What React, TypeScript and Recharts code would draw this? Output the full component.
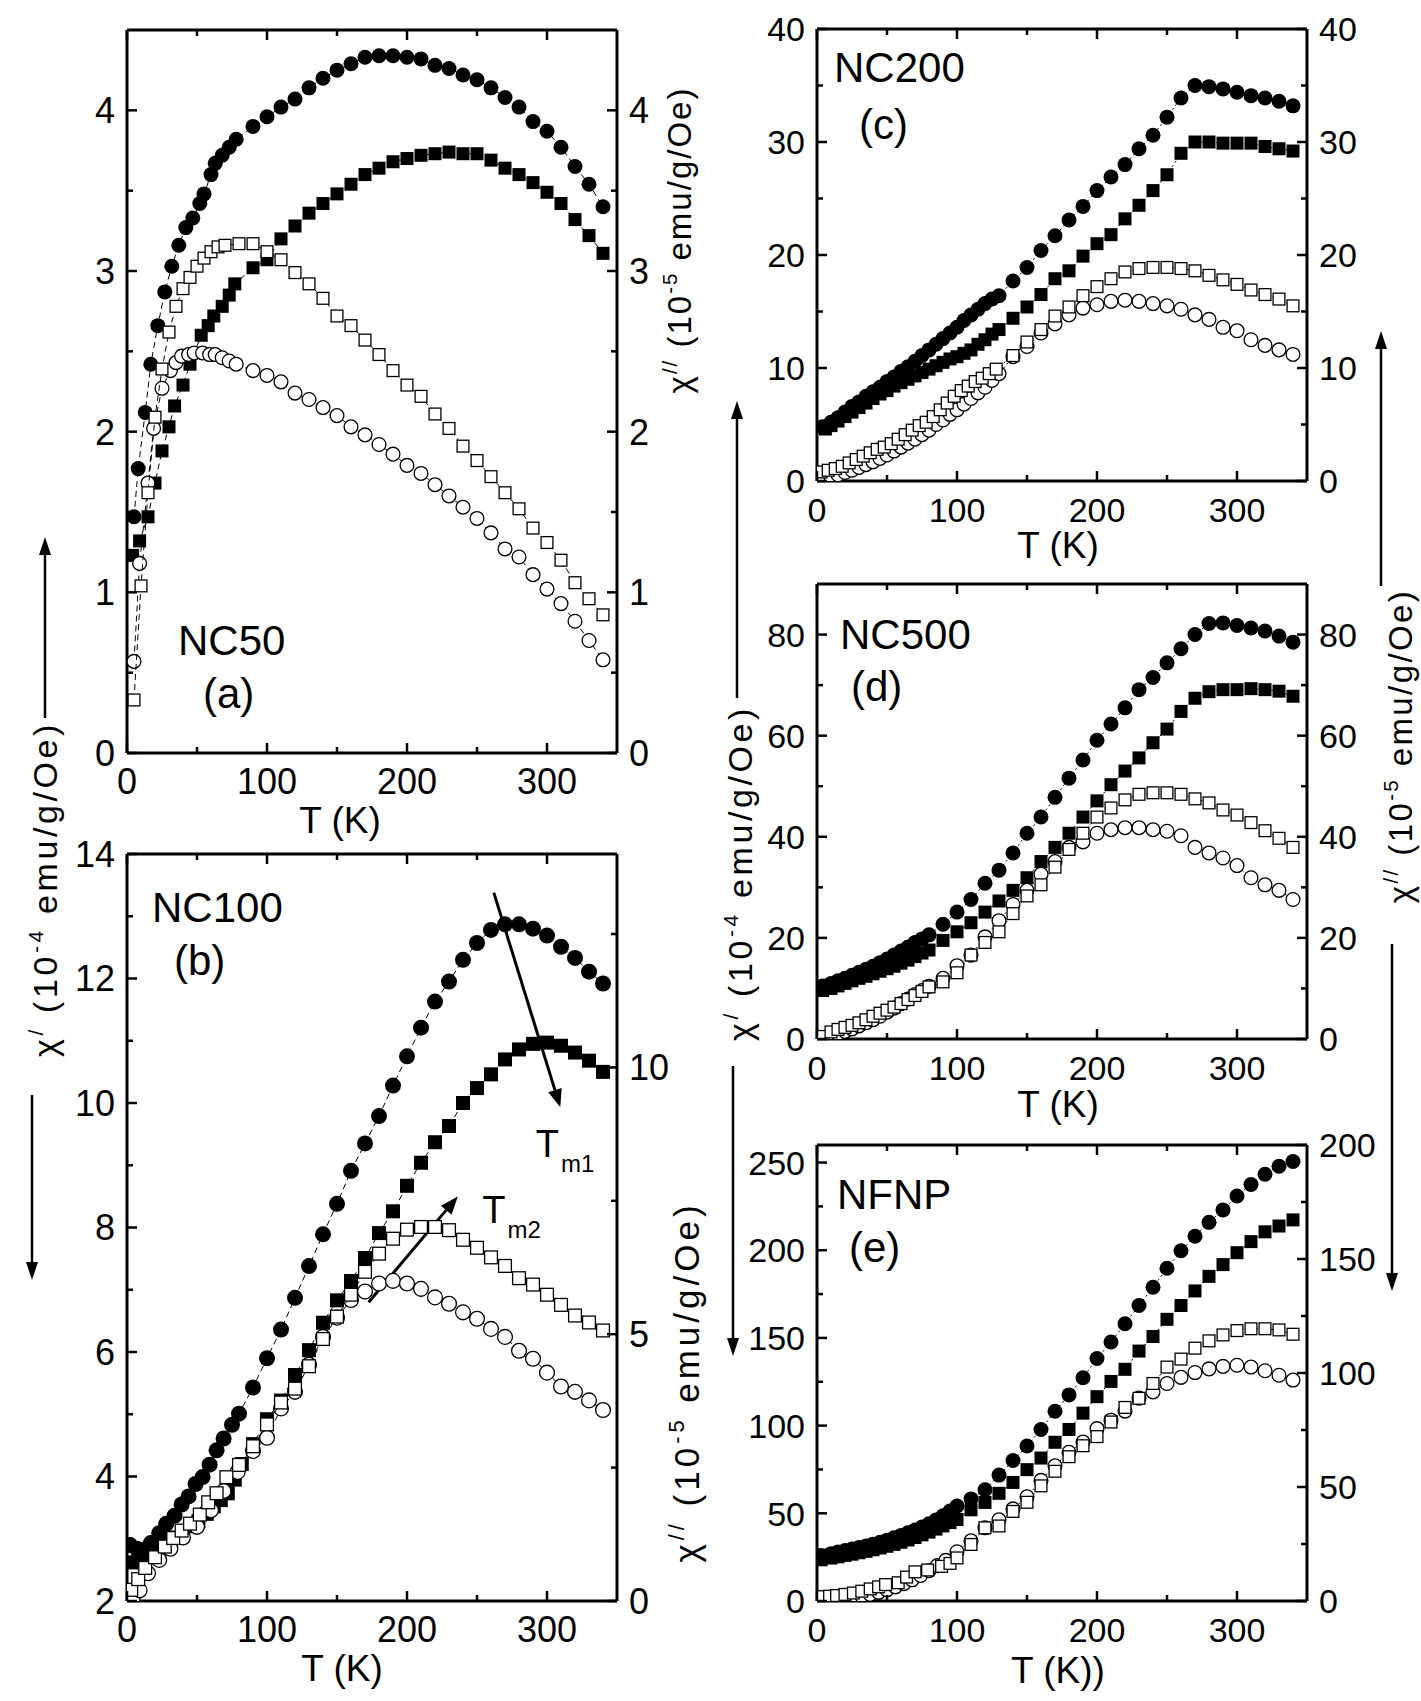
import React from 'react';
import { ScatterChart, Scatter, XAxis, YAxis, ReferenceLine, ReferenceDot } from 'recharts';

const FONT = "'Liberation Sans', Arial, Helvetica, sans-serif";

// ---------------- shared x axis ----------------
const X_DOMAIN = [0, 350];
const X_TICKS = [0, 50, 100, 150, 200, 250, 300];
const X_MAJOR = [0, 100, 200, 300];

const T90 = [90, 100, 110, 120, 130, 140, 150, 160, 170, 180, 190, 200, 210, 220, 230, 240, 250, 260, 270, 280, 290, 300, 310, 320, 330, 340];
const T100 = [100, 110, 120, 130, 140, 150, 160, 170, 180, 190, 200, 210, 220, 230, 240, 250, 260, 270, 280, 290, 300, 310, 320, 330, 340];
const T110 = [110, 120, 130, 140, 150, 160, 170, 180, 190, 200, 210, 220, 230, 240, 250, 260, 270, 280, 290, 300, 310, 320, 330, 340];
const T140 = [140, 150, 160, 170, 180, 190, 200, 210, 220, 230, 240, 250, 260, 270, 280, 290, 300, 310, 320, 330, 340];

// ---------------- panel (a) NC50 ----------------
const A_FC_T = [5, 8, 13, 17, 22, 27, 32, 37, 42, 47, 52, 55, 60, 63, 68, 73, 78, ...T90];
const A_FC = [1.47, 1.77, 2.12, 2.42, 2.66, 2.87, 3.03, 3.16, 3.27, 3.33, 3.42, 3.48, 3.6, 3.67, 3.72, 3.77, 3.82,
  3.9, 3.96, 4.02, 4.07, 4.14, 4.2, 4.25, 4.29, 4.33, 4.34, 4.34, 4.33, 4.32, 4.28, 4.26, 4.22, 4.19, 4.14, 4.08, 4.02, 3.93, 3.87, 3.77, 3.65, 3.54, 3.4];
const A_FS_T = [4, 9, 15, 20, 25, 30, 34, 40, 45, 53, 58, 62, 68, 73, 77, ...T90];
const A_FS = [1.23, 1.32, 1.47, 1.68, 1.88, 2.03, 2.16, 2.29, 2.42, 2.6, 2.66, 2.72, 2.78, 2.85, 2.92,
  3.02, 3.07, 3.2, 3.28, 3.36, 3.42, 3.48, 3.54, 3.6, 3.64, 3.68, 3.7, 3.72, 3.73, 3.74, 3.73, 3.73, 3.69, 3.64, 3.6, 3.55, 3.49, 3.42, 3.32, 3.22, 3.11];
const A_OS_T = [5, 10, 15, 20, 25, 30, 35, 40, 45, 50, 55, 60, 65, 70, 80, 90, ...T100];
const A_OS = [0.33, 1.04, 1.62, 2.09, 2.39, 2.62, 2.78, 2.89, 2.96, 3.03, 3.08, 3.12, 3.15, 3.16, 3.17, 3.17,
  3.12, 3.07, 2.99, 2.92, 2.83, 2.72, 2.66, 2.57, 2.48, 2.38, 2.29, 2.22, 2.11, 2.02, 1.91, 1.82, 1.72, 1.62, 1.52, 1.4, 1.31, 1.2, 1.06, 0.96, 0.86];
const A_OC_T = [5, 9, 15, 19, 25, 31, 35, 39, 44, 48, 54, 59, 63, 68, 73, 78, ...T90];
const A_OC = [0.57, 1.18, 1.68, 2.02, 2.27, 2.38, 2.43, 2.47, 2.48, 2.49, 2.49, 2.48, 2.48, 2.46, 2.44, 2.42,
  2.38, 2.35, 2.31, 2.24, 2.2, 2.15, 2.1, 2.03, 1.98, 1.92, 1.86, 1.79, 1.74, 1.67, 1.6, 1.53, 1.46, 1.37, 1.27, 1.22, 1.11, 1.02, 0.93, 0.82, 0.7, 0.58];
const A_YL = { domain: [0, 4.5], ticks: [0, 0.5, 1, 1.5, 2, 2.5, 3, 3.5, 4], majors: [0, 1, 2, 3, 4] };
const A_YR = { domain: [0, 4.5], ticks: [0, 0.5, 1, 1.5, 2, 2.5, 3, 3.5, 4], majors: [0, 1, 2, 3, 4] };

// ---------------- panel (b) NC100 ----------------
const B_FC_T = [2, 7, 12, 17, 23, 28, 34, 39, 44, 49, 54, 59, 64, 69, 75, 80, ...T90];
const B_FC = [2.9, 2.84, 2.82, 2.93, 3.09, 3.24, 3.37, 3.55, 3.68, 3.88, 3.99, 4.19, 4.42, 4.61, 4.83, 5.01,
  5.43, 5.9, 6.36, 6.87, 7.38, 7.89, 8.38, 8.91, 9.35, 9.79, 10.28, 10.75, 11.21, 11.63, 11.95, 12.3, 12.57, 12.78, 12.87, 12.87, 12.8, 12.69, 12.51, 12.33, 12.11, 11.92];
const B_FS_T = [3, 8, 13, 20, 27, 33, 40, 46, 51, 57, 62, 67, 72, 77, 82, ...T90];
const B_FS = [2.62, 2.65, 2.7, 2.8, 2.92, 3.02, 3.12, 3.2, 3.28, 3.4, 3.52, 3.62, 3.73, 3.95, 4.2,
  4.52, 4.92, 5.22, 5.63, 6.03, 6.47, 6.83, 7.14, 7.51, 7.91, 8.26, 8.67, 9.04, 9.37, 9.63, 10.0, 10.24, 10.46, 10.7, 10.86, 10.95, 10.97, 10.92, 10.81, 10.68, 10.5];
const B_OS_T = [3, 8, 13, 20, 27, 33, 39, 45, 52, 58, 64, 71, 80, ...T90];
const B_OS = [0.21, 0.41, 0.62, 0.82, 1.02, 1.18, 1.32, 1.45, 1.62, 1.85, 2.02, 2.32, 2.55,
  2.9, 3.31, 3.72, 3.98, 4.4, 4.91, 5.33, 5.74, 6.17, 6.51, 6.79, 6.96, 7.01, 7.01, 6.95, 6.77, 6.62, 6.44, 6.28, 6.05, 5.93, 5.74, 5.55, 5.35, 5.22, 5.07];
const B_OC_T = [4, 9, 15, 23, 31, 40, 50, 60, 69, 79, ...T90];
const B_OC = [0.05, 0.2, 0.52, 0.77, 0.98, 1.19, 1.39, 1.7, 2.06, 2.42,
  2.81, 3.06, 3.61, 3.92, 4.43, 4.95, 5.31, 5.64, 5.8, 5.95, 6.0, 5.95, 5.85, 5.69, 5.57, 5.41, 5.29, 5.1, 4.95, 4.69, 4.54, 4.28, 4.02, 3.92, 3.76, 3.58];
const B_YL = { domain: [2, 14], ticks: [2, 3, 4, 5, 6, 7, 8, 9, 10, 11, 12, 13, 14], majors: [2, 4, 6, 8, 10, 12, 14] };
const B_YR = { domain: [0, 14], ticks: [0, 2.5, 5, 7.5, 10, 12.5], majors: [0, 5, 10] };

// ---------------- panel (c) NC200 ----------------
const C_FC_T = [4, 10, 15, 20, 25, 30, 35, 40, 45, 50, 55, 60, 65, 70, 75, 80, 85, 90, 95, 100, 105, 110, 115, 120, 125, 130, ...T140];
const C_FC = [4.8, 5.2, 5.6, 6.1, 6.6, 7.0, 7.5, 7.9, 8.3, 8.8, 9.2, 9.7, 10.1, 10.6, 11.1, 11.6, 12.1, 12.6, 13.1, 13.6, 14.2, 14.7, 15.2, 15.7, 16.1, 16.4,
  17.7, 18.9, 20.4, 21.7, 23.1, 24.3, 25.7, 26.9, 28.0, 29.4, 30.6, 32.2, 33.9, 35.0, 34.9, 34.7, 34.4, 34.1, 33.9, 33.6, 33.2];
const C_FS_T = [6, 10, 15, 20, 25, 30, 35, 40, 45, 50, 55, 60, 65, 70, 75, 80, 85, 90, 95, 100, 105, 110, 115, 120, 125, 130, ...T140];
const C_FS = [4.6, 4.9, 5.3, 5.7, 6.1, 6.5, 6.9, 7.3, 7.7, 8.0, 8.4, 8.7, 9.0, 9.3, 9.6, 9.9, 10.2, 10.5, 10.8, 11.0, 11.3, 11.6, 12.1, 12.5, 13.0, 13.4,
  14.4, 15.4, 16.5, 17.9, 18.6, 19.9, 21.0, 21.8, 23.2, 24.4, 25.7, 27.1, 29.0, 30.0, 30.0, 29.9, 29.9, 29.9, 29.6, 29.4, 29.2];
const C_OS_T = [3, 8, 13, 18, 23, 28, 33, 38, 43, 48, 53, 58, 63, 68, 73, 78, 83, 88, 93, 98, 103, 108, 113, 118, 123, 128, ...T140];
const C_OS = [0.8, 0.95, 1.1, 1.3, 1.6, 1.9, 2.2, 2.5, 2.8, 3.0, 3.3, 3.7, 4.1, 4.5, 4.9, 5.2, 5.7, 6.3, 6.9, 7.5, 8.0, 8.4, 8.8, 9.1, 9.5, 9.9,
  11.1, 12.3, 13.4, 14.6, 15.4, 16.4, 17.2, 17.9, 18.5, 18.8, 18.9, 18.9, 18.8, 18.6, 18.2, 17.8, 17.4, 16.9, 16.5, 16.1, 15.5];
const C_OC_T = [4, 10, 15, 20, 25, 30, 35, 40, 45, 50, 55, 60, 65, 70, 75, 80, 85, 90, 95, 100, 105, 110, 115, 120, 125, 130, ...T140];
const C_OC = [0.15, 0.35, 0.55, 0.75, 0.95, 1.2, 1.45, 1.7, 2.0, 2.3, 2.65, 3.0, 3.35, 3.7, 4.1, 4.5, 5.0, 5.4, 5.9, 6.3, 6.8, 7.3, 7.8, 8.3, 8.9, 9.5,
  11.0, 11.9, 13.1, 13.9, 14.7, 15.3, 15.6, 15.9, 16.0, 15.9, 15.7, 15.5, 15.2, 14.7, 14.3, 13.6, 13.3, 12.5, 12.0, 11.6, 11.2];
const C_YL = { domain: [0, 40], ticks: [0, 5, 10, 15, 20, 25, 30, 35, 40], majors: [0, 10, 20, 30, 40] };
const C_YR = { domain: [0, 40], ticks: [0, 5, 10, 15, 20, 25, 30, 35, 40], majors: [0, 10, 20, 30, 40] };

// ---------------- panel (d) NC500 ----------------
const D_T = [4, 10, 15, 20, 25, 30, 35, 40, 45, 50, 55, 60, 65, 70, 75, 80, ...T90];
const D_FC = [10.5, 11.0, 11.5, 12.0, 12.6, 13.2, 13.8, 14.4, 15.1, 15.8, 16.6, 17.4, 18.2, 19.1, 19.8, 20.6,
  22.7, 25.1, 27.6, 30.8, 33.4, 36.8, 40.7, 43.9, 47.8, 51.6, 55.2, 59.1, 62.3, 65.5, 69.1, 71.5, 74.4, 77.2, 80.0, 82.2, 82.3, 81.8, 81.3, 80.7, 79.7, 78.5];
const D_FS = [9.6, 10.0, 10.5, 11.0, 11.5, 12.0, 12.4, 12.9, 13.4, 13.9, 14.4, 15.0, 15.6, 16.3, 17.0, 17.6,
  19.5, 21.2, 23.0, 25.1, 27.3, 29.4, 31.9, 35.1, 37.9, 40.7, 43.9, 47.1, 50.3, 53.0, 55.6, 58.6, 61.3, 64.8, 67.4, 68.7, 69.1, 69.1, 69.3, 69.1, 68.8, 67.8];
const D_OS = [0.5, 1.4, 1.9, 2.3, 2.7, 3.2, 3.8, 4.5, 5.1, 5.7, 6.3, 7.0, 7.8, 8.6, 9.4, 10.3,
  11.3, 13.1, 16.6, 19.1, 21.2, 24.8, 28.3, 30.5, 34.0, 37.5, 40.7, 43.9, 45.7, 47.3, 48.4, 48.7, 48.7, 48.4, 47.5, 46.7, 45.3, 44.3, 42.8, 41.2, 39.7, 37.9];
const D_OC = [0.2, 0.6, 1.0, 1.5, 2.0, 2.6, 3.2, 3.8, 4.5, 5.3, 6.1, 7.0, 7.9, 8.8, 9.6, 10.4,
  12.0, 14.5, 16.6, 20.2, 23.4, 26.6, 29.4, 32.6, 35.1, 37.9, 39.0, 40.7, 41.4, 41.8, 41.8, 41.4, 41.1, 40.2, 37.9, 36.8, 35.8, 34.3, 31.9, 30.5, 29.4, 27.6];
const D_YL = { domain: [0, 90], ticks: [0, 10, 20, 30, 40, 50, 60, 70, 80], majors: [0, 20, 40, 60, 80] };
const D_YR = { domain: [0, 90], ticks: [0, 10, 20, 30, 40, 50, 60, 70, 80], majors: [0, 20, 40, 60, 80] };

// ---------------- panel (e) NFNP ----------------
const E_F_T = [3, 10, 15, 20, 25, 30, 35, 40, 45, 50, 55, 60, 65, 70, 75, 80, 85, 90, 95, 100, ...T110];
const E_FC = [26.0, 27.0, 28.0, 28.8, 29.6, 30.5, 31.4, 32.4, 33.5, 34.7, 36.0, 37.4, 38.9, 40.5, 42.2, 44.0, 46.2, 48.6, 51.3, 54.2,
  58.2, 63.4, 71.8, 80.1, 88.4, 97.8, 108.2, 117.5, 127.3, 138.3, 147.7, 158.1, 168.5, 178.9, 189.7, 199.7, 208.0, 215.9, 223.0, 230.9, 237.5, 243.3, 247.9, 250.6];
const E_FS = [23.5, 24.5, 25.2, 26.0, 26.7, 27.5, 28.3, 29.2, 30.2, 31.2, 32.3, 33.5, 34.8, 36.2, 37.7, 39.3, 41.0, 42.8, 44.7, 46.5,
  52.0, 56.2, 61.4, 67.6, 74.9, 81.5, 90.5, 97.8, 107.1, 116.5, 125.2, 132.1, 142.5, 150.8, 160.6, 168.5, 176.8, 185.1, 191.8, 198.6, 204.9, 210.5, 213.8, 217.3];
const E_OS_T = [3, 9, 14, 20, 26, 32, 38, 44, 49, 58, 64, 70, 79, 89, 95, 100, ...T110];
const E_OS = [1.9, 2.1, 2.4, 2.9, 3.5, 4.3, 5.3, 6.2, 7.2, 8.0, 10.5, 12.8, 13.6, 15.2, 16.5, 18.9,
  24.8, 32.1, 32.9, 39.3, 43.3, 50.5, 56.9, 63.3, 68.1, 72.1, 78.5, 84.9, 88.9, 95.4, 102.6, 106.1, 110.9, 114.1, 116.7, 118.6, 119.4, 119.4, 118.9, 117.0];
const E_OC_T = [3, 9, 14, 20, 26, 32, 38, 44, 50, 56, 62, 68, 74, 80, 86, 92, 100, ...T110];
const E_OC = [0.5, 0.7, 0.9, 1.2, 1.6, 2.2, 2.9, 3.8, 4.9, 6.2, 7.6, 9.3, 11.2, 13.3, 15.5, 17.8, 21.6,
  26.4, 32.1, 35.6, 40.4, 45.7, 52.9, 59.3, 65.2, 69.7, 75.6, 79.3, 83.3, 89.0, 91.7, 95.4, 98.1, 100.2, 101.8, 102.9, 103.4, 102.6, 101.0, 99.0, 96.9];
const E_YL = { domain: [0, 260], ticks: [0, 25, 50, 75, 100, 125, 150, 175, 200, 225, 250], majors: [0, 50, 100, 150, 200, 250] };
const E_YR = { domain: [0, 200], ticks: [0, 25, 50, 75, 100, 125, 150, 175, 200], majors: [0, 50, 100, 150, 200] };

// ---------------- annotations in (b) ----------------
const B_ARROW1 = [{ x: 262, y: 13.38 }, { x: 309.5, y: 9.93 }];
const B_ARROW2 = [{ x: 172.6, y: 6.8 }, { x: 236.3, y: 8.5 }];
const B_TM1 = { x: 292, y: 9.13, sub: 'm1' };
const B_TM2 = { x: 253.8, y: 8.07, sub: 'm2' };

// ---------------- layout ----------------
const LW = 90, RW = 90, MT = 30, XB = 60, XT = 1;
const AX = { stroke: '#000', strokeWidth: 3 };

type Box = { left: number; right: number; top: number; bottom: number };
type YSpec = { domain: number[]; ticks: number[]; majors: number[] };
type Kind = 'fc' | 'fs' | 'oc' | 'os';
type Ser = { t: number[]; v: number[]; kind: Kind; axis: 'L' | 'R' };

const zip = (t: number[], v: number[]) => t.map((x, i) => ({ x, y: v[i] }));

function mkTick(orient: string, majors: number[], fs: number, labels: boolean) {
  return (p: any) => {
    const v = Number(p && p.payload ? p.payload.value : NaN);
    const major = majors.some((m) => Math.abs(m - v) < 1e-6);
    const len = major ? 10 : 6;
    const x = Number(p.x), y = Number(p.y);
    let x2 = x, y2 = y;
    if (orient === 'bottom') y2 = y - len;
    else if (orient === 'top') y2 = y + len;
    else if (orient === 'left') x2 = x + len;
    else x2 = x - len;
    let label: any = null;
    if (labels && major) {
      const txt = String(v);
      const common = { fontFamily: FONT, fontSize: fs, fill: '#000' };
      if (orient === 'bottom') label = <text x={x} y={y + 41} textAnchor="middle" {...common}>{txt}</text>;
      else if (orient === 'left') label = <text x={x - 12} y={y + fs * 0.36} textAnchor="end" {...common}>{txt}</text>;
      else if (orient === 'right') label = <text x={x + 12} y={y + fs * 0.36} textAnchor="start" {...common}>{txt}</text>;
    }
    return (
      <g>
        <line x1={x} y1={y} x2={x2} y2={y2} stroke="#000" strokeWidth={2.5} />
        {label}
      </g>
    );
  };
}

function shapeFor(kind: Kind, r: number, s: number) {
  return (p: any) => {
    const cx = p.cx, cy = p.cy;
    if (cx == null || cy == null) return <g />;
    if (kind === 'fc') return <circle cx={cx} cy={cy} r={r} fill="#000" />;
    if (kind === 'oc') return <circle cx={cx} cy={cy} r={r - 0.6} fill="#fff" stroke="#000" strokeWidth={1.3} />;
    if (kind === 'fs') return <rect x={cx - s / 2} y={cy - s / 2} width={s} height={s} fill="#000" />;
    return <rect x={cx - s / 2 + 0.6} y={cy - s / 2 + 0.6} width={s - 1.2} height={s - 1.2} fill="#fff" stroke="#000" strokeWidth={1.3} />;
  };
}

const hiddenShape = () => <g />;

function ArrowShape({ x1, y1, x2, y2, w = 2.5, head = 16, hw = 6 }: any) {
  const dx = x2 - x1, dy = y2 - y1;
  const L = Math.hypot(dx, dy) || 1;
  const ux = dx / L, uy = dy / L;
  const bx = x2 - ux * head, by = y2 - uy * head;
  const px = -uy, py = ux;
  return (
    <g>
      <line x1={x1} y1={y1} x2={bx} y2={by} stroke="#000" strokeWidth={w} />
      <polygon points={`${x2},${y2} ${bx + px * hw},${by + py * hw} ${bx - px * hw},${by - py * hw}`} fill="#000" />
    </g>
  );
}

function Panel({ box, fs, yL, yR, series, dash, r, s, children }: {
  box: Box; fs: number; yL: YSpec; yR: YSpec; series: Ser[]; dash: string; r: number; s: number; children?: any;
}) {
  const W = box.right - box.left + LW + RW;
  const H = box.bottom - box.top + MT + XB;
  return (
    <div style={{ position: 'absolute', left: box.left - LW, top: box.top - MT, width: W, height: H }}>
      <ScatterChart width={W} height={H} margin={{ top: MT - XT, right: 0, bottom: 0, left: 0 }}>
        <XAxis xAxisId="b" type="number" dataKey="x" domain={X_DOMAIN} ticks={X_TICKS} interval={0} allowDataOverflow
          tick={mkTick('bottom', X_MAJOR, fs, true)} tickLine={false} tickSize={0} tickMargin={0} axisLine={AX} height={XB} />
        <XAxis xAxisId="t" orientation="top" type="number" dataKey="x" domain={X_DOMAIN} ticks={X_TICKS} interval={0} allowDataOverflow
          tick={mkTick('top', X_MAJOR, fs, false)} tickLine={false} tickSize={0} tickMargin={0} axisLine={AX} height={XT} />
        <YAxis yAxisId="L" type="number" dataKey="y" domain={yL.domain} ticks={yL.ticks} interval={0} allowDataOverflow
          tick={mkTick('left', yL.majors, fs, true)} tickLine={false} tickSize={0} tickMargin={0} axisLine={AX} width={LW} />
        <YAxis yAxisId="R" orientation="right" type="number" dataKey="y" domain={yR.domain} ticks={yR.ticks} interval={0} allowDataOverflow
          tick={mkTick('right', yR.majors, fs, true)} tickLine={false} tickSize={0} tickMargin={0} axisLine={AX} width={RW} />
        <Scatter xAxisId="t" yAxisId="L" data={zip(series[0].t, series[0].v)} isAnimationActive={false} shape={hiddenShape} />
        {series.map((se, i) => (
          <Scatter key={i} xAxisId="b" yAxisId={se.axis} data={zip(se.t, se.v)} isAnimationActive={false}
            shape={shapeFor(se.kind, r, s)}
            line={{ stroke: '#000', strokeWidth: 1, strokeDasharray: dash }} />
        ))}
        {children}
      </ScatterChart>
    </div>
  );
}

function VLabel({ x, y, size, primes, exp, spacing = 1.5 }: any) {
  const up = size * 0.42;
  return (
    <text transform={`translate(${x},${y}) rotate(-90)`} textAnchor="middle" fontFamily={FONT} fontSize={size}
      letterSpacing={spacing} fill="#000">
      χ<tspan dy={-up} fontSize={size * 0.62}>{primes}</tspan>
      <tspan dy={up}>{' (10'}</tspan>
      <tspan dy={-up} fontSize={size * 0.62}>{exp}</tspan>
      <tspan dy={up}>{' emu/g/Oe)'}</tspan>
    </text>
  );
}

const BOX_A: Box = { left: 127, right: 617, top: 30, bottom: 753 };
const BOX_B: Box = { left: 127, right: 617, top: 854, bottom: 1601 };
const BOX_C: Box = { left: 817, right: 1307, top: 29, bottom: 481 };
const BOX_D: Box = { left: 817, right: 1307, top: 584, bottom: 1039 };
const BOX_E: Box = { left: 817, right: 1307, top: 1145, bottom: 1601 };

export default function App() {
  const sA: Ser[] = [
    { t: A_FC_T, v: A_FC, kind: 'fc', axis: 'L' },
    { t: A_FS_T, v: A_FS, kind: 'fs', axis: 'L' },
    { t: A_OC_T, v: A_OC, kind: 'oc', axis: 'R' },
    { t: A_OS_T, v: A_OS, kind: 'os', axis: 'R' },
  ];
  const sB: Ser[] = [
    { t: B_FC_T, v: B_FC, kind: 'fc', axis: 'L' },
    { t: B_FS_T, v: B_FS, kind: 'fs', axis: 'L' },
    { t: B_OC_T, v: B_OC, kind: 'oc', axis: 'R' },
    { t: B_OS_T, v: B_OS, kind: 'os', axis: 'R' },
  ];
  const sC: Ser[] = [
    { t: C_FC_T, v: C_FC, kind: 'fc', axis: 'L' },
    { t: C_FS_T, v: C_FS, kind: 'fs', axis: 'L' },
    { t: C_OC_T, v: C_OC, kind: 'oc', axis: 'R' },
    { t: C_OS_T, v: C_OS, kind: 'os', axis: 'R' },
  ];
  const sD: Ser[] = [
    { t: D_T, v: D_FC, kind: 'fc', axis: 'L' },
    { t: D_T, v: D_FS, kind: 'fs', axis: 'L' },
    { t: D_T, v: D_OC, kind: 'oc', axis: 'R' },
    { t: D_T, v: D_OS, kind: 'os', axis: 'R' },
  ];
  const sE: Ser[] = [
    { t: E_F_T, v: E_FC, kind: 'fc', axis: 'L' },
    { t: E_F_T, v: E_FS, kind: 'fs', axis: 'L' },
    { t: E_OC_T, v: E_OC, kind: 'oc', axis: 'R' },
    { t: E_OS_T, v: E_OS, kind: 'os', axis: 'R' },
  ];

  const tm = (d: any) => (p: any) => (
    <text x={p.cx} y={p.cy} fontFamily={FONT} fontSize={38} fill="#000">
      T<tspan dx={2} dy={15} fontSize={24}>{d.sub}</tspan>
    </text>
  );

  const T = { fontFamily: FONT, fill: '#000' } as any;

  return (
    <div style={{ position: 'absolute', left: 0, top: 0, width: 1421, height: 1701, background: '#fff', overflow: 'hidden' }}>
      <Panel box={BOX_A} fs={36} yL={A_YL} yR={A_YR} series={sA} dash="6 4" r={7.5} s={13} />
      <Panel box={BOX_B} fs={36} yL={B_YL} yR={B_YR} series={sB} dash="6 4" r={8} s={14}>
        <ReferenceLine xAxisId="b" yAxisId="L" segment={B_ARROW1} ifOverflow="visible"
          shape={(p: any) => <ArrowShape x1={p.x1} y1={p.y1} x2={p.x2} y2={p.y2} w={3} head={18} hw={7} />} />
        <ReferenceLine xAxisId="b" yAxisId="L" segment={B_ARROW2} ifOverflow="visible"
          shape={(p: any) => <ArrowShape x1={p.x1} y1={p.y1} x2={p.x2} y2={p.y2} w={3} head={18} hw={7} />} />
        <ReferenceDot xAxisId="b" yAxisId="L" x={B_TM1.x} y={B_TM1.y} r={0} shape={tm(B_TM1)} />
        <ReferenceDot xAxisId="b" yAxisId="L" x={B_TM2.x} y={B_TM2.y} r={0} shape={tm(B_TM2)} />
      </Panel>
      <Panel box={BOX_C} fs={34} yL={C_YL} yR={C_YR} series={sC} dash="2 3" r={7.5} s={13} />
      <Panel box={BOX_D} fs={34} yL={D_YL} yR={D_YR} series={sD} dash="2 3" r={7.5} s={13} />
      <Panel box={BOX_E} fs={34} yL={E_YL} yR={E_YR} series={sE} dash="2 3" r={7.5} s={13} />

      <svg width={1421} height={1701} style={{ position: 'absolute', left: 0, top: 0, pointerEvents: 'none' }}>
        {/* panel titles */}
        <text x={178} y={655} fontSize={42} {...T}>NC50</text>
        <text x={203} y={708} fontSize={42} {...T}>(a)</text>
        <text x={152} y={922} fontSize={42} {...T}>NC100</text>
        <text x={174} y={975} fontSize={42} {...T}>(b)</text>
        <text x={834} y={82} fontSize={42} {...T}>NC200</text>
        <text x={859} y={139} fontSize={42} {...T}>(c)</text>
        <text x={840} y={649} fontSize={42} {...T}>NC500</text>
        <text x={851} y={701} fontSize={42} {...T}>(d)</text>
        <text x={837} y={1209} fontSize={42} {...T}>NFNP</text>
        <text x={849} y={1262} fontSize={42} {...T}>(e)</text>

        {/* x axis titles */}
        <text x={340} y={833} fontSize={37} textAnchor="middle" {...T}>T (K)</text>
        <text x={342} y={1681} fontSize={37} textAnchor="middle" {...T}>T (K)</text>
        <text x={1058} y={558} fontSize={37} textAnchor="middle" {...T}>T (K)</text>
        <text x={1058} y={1117} fontSize={37} textAnchor="middle" {...T}>T (K)</text>
        <text x={1058} y={1683} fontSize={37} textAnchor="middle" {...T}>T (K))</text>

        {/* vertical axis titles */}
        <VLabel x={57} y={889} size={34} primes="/" exp="-4" spacing={3.6} />
        <ArrowShape x1={45} y1={718} x2={45} y2={537} w={2.5} head={18} hw={6} />
        <ArrowShape x1={32} y1={1095} x2={32} y2={1280} w={2.5} head={18} hw={6} />

        <VLabel x={691} y={240} size={33} primes="//" exp="-5" spacing={2} />
        <VLabel x={699} y={1382} size={35} primes="//" exp="-5" spacing={4} />

        <VLabel x={752} y={873} size={34} primes="/" exp="-4" spacing={3.6} />
        <ArrowShape x1={737} y1={698} x2={737} y2={401} w={2.5} head={18} hw={6} />
        <ArrowShape x1={733} y1={1066} x2={733} y2={1356} w={2.5} head={18} hw={6} />

        <VLabel x={1412} y={746} size={33} primes="//" exp="-5" spacing={2.4} />
        <ArrowShape x1={1381} y1={586} x2={1381} y2={331} w={2.5} head={18} hw={6} />
        <ArrowShape x1={1392} y1={944} x2={1392} y2={1291} w={2.5} head={18} hw={6} />
      </svg>
    </div>
  );
}
